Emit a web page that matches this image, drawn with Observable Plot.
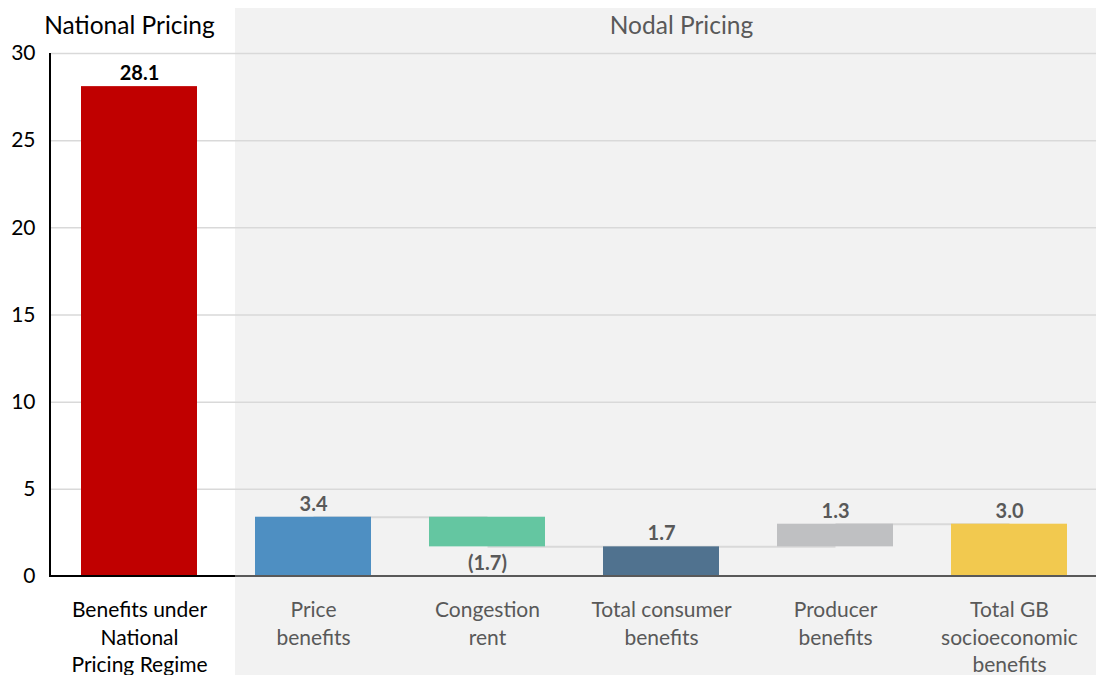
<!DOCTYPE html>
<html>
<head>
<meta charset="utf-8">
<script src="https://cdn.jsdelivr.net/npm/d3@7"></script>
<script src="https://cdn.jsdelivr.net/npm/@observablehq/plot@0.6"></script>
<style>
  html, body { margin: 0; padding: 0; background: #ffffff; }
  #chart { width: 1099px; height: 675px; }
</style>
</head>
<body>
<div id="chart"></div>
<script>
// ---- Data ----
const categories = [
  "Benefits under\nNational\nPricing Regime",
  "Price\nbenefits",
  "Congestion\nrent",
  "Total consumer\nbenefits",
  "Producer\nbenefits",
  "Total GB\nsocioeconomic\nbenefits"
];
const barStart = [0, 0, 1.7, 0, 1.7, 0];
const barEnd = [28.1, 3.4, 3.4, 1.7, 3.0, 3.0];
const valueText = ["28.1", "3.4", "(1.7)", "1.7", "1.3", "3.0"];
const labelBelow = [false, false, true, false, false, false];
const barColors = ["#c00000", "#4e8fc2", "#64c6a1", "#50728f", "#bfc0c2", "#f2c94f"];
const textColors = ["#000000", "#595959", "#595959", "#595959", "#595959", "#595959"];
const connectorFrom = [1, 2, 3, 4];
const connectorLevel = [3.4, 1.7, 1.7, 3.0];
const yTicks = [0, 5, 10, 15, 20, 25, 30];
const groupTitles = ["National Pricing", "Nodal Pricing"];
const groupAnchor = [0, 3];
const groupColors = ["#000000", "#595959"];

const bars = categories.map((c, i) => ({
  cat: c, y1: barStart[i], y2: barEnd[i], text: valueText[i],
  below: labelBelow[i], color: barColors[i], tcolor: textColors[i]
}));
const connectors = connectorFrom.map((i, k) => ({
  x1: categories[i], x2: categories[i + 1], y: connectorLevel[k]
}));
const groups = groupTitles.map((t, i) => ({
  title: t, cat: categories[groupAnchor[i]], color: groupColors[i]
}));

const FONT = "Lato, 'Open Sans', sans-serif";

// Background panel for nodal pricing group
function nodalPanel(index, scales, values, dims) {
  const x = scales.x;
  const step = x(categories[1]) - x(categories[0]);
  const left = x(categories[1]) - step * 0.115;
  const right = dims.width - dims.marginRight;
  const g = d3.create("svg:g");
  g.append("rect")
    .attr("x", left).attr("y", dims.marginTop - 45)
    .attr("width", right - left).attr("height", dims.height - (dims.marginTop - 45))
    .attr("fill", "#f2f2f2");
  return g.node();
}

// Axis lines
function axisLines(index, scales, values, dims) {
  const x = scales.x, y = scales.y;
  const step = x(categories[1]) - x(categories[0]);
  const left = x(categories[1]) - step * 0.115;
  const right = dims.width - dims.marginRight;
  const x0 = dims.marginLeft - 1;
  const g = d3.create("svg:g");
  g.append("line").attr("x1", x0).attr("x2", left).attr("y1", y(0)).attr("y2", y(0))
    .attr("stroke", "#000").attr("stroke-width", 2);
  g.append("line").attr("x1", left).attr("x2", right).attr("y1", y(0)).attr("y2", y(0))
    .attr("stroke", "#595959").attr("stroke-width", 2);
  g.append("line").attr("x1", x0).attr("x2", x0).attr("y1", y(30)).attr("y2", y(0) + 1)
    .attr("stroke", "#000").attr("stroke-width", 2);
  return g.node();
}

const plot = Plot.plot({
  width: 1099,
  height: 675,
  marginLeft: 51,
  marginRight: 3,
  marginTop: 53,
  marginBottom: 99,
  style: { fontFamily: FONT, background: "transparent", overflow: "visible" },
  x: { domain: categories, paddingInner: 1 / 3, paddingOuter: 1 / 6, axis: null },
  y: { domain: [0, 30], axis: null },
  color: { type: "identity" },
  marks: [
    nodalPanel,
    Plot.gridY(yTicks.slice(1), { stroke: "#d9d9d9", strokeOpacity: 1, strokeWidth: 1.5 }),
    Plot.axisY(yTicks, { tickSize: 0, tickPadding: 16, fontSize: 21, fill: "#000", label: null }),
    Plot.link(connectors, { x1: "x1", x2: "x2", y1: "y", y2: "y", stroke: "#d9d9d9", strokeWidth: 2 }),
    Plot.barY(bars, { x: "cat", y1: "y1", y2: "y2", fill: "color" }),
    Plot.text(bars.filter(d => !d.below), {
      x: "cat", y: "y2", text: "text", fill: "tcolor", dy: -13,
      fontSize: 20, fontWeight: "bold"
    }),
    Plot.text(bars.filter(d => d.below), {
      x: "cat", y: "y1", text: "text", fill: "tcolor", dy: 17,
      fontSize: 20, fontWeight: "bold"
    }),
    Plot.text(bars, {
      x: "cat", y: 0, text: "cat", fill: "tcolor", lineAnchor: "top",
      dy: 21, fontSize: 21, lineHeight: 1.31
    }),
    Plot.text(groups.slice(0, 1), {
      x: "cat", frameAnchor: "top", lineAnchor: "middle", dy: -27, dx: -10,
      text: "title", fill: "color", fontSize: 24.5
    }),
    Plot.text(groups.slice(1), {
      x: "cat", frameAnchor: "top", lineAnchor: "middle", dy: -27, dx: 20,
      text: "title", fill: "color", fontSize: 24.5
    }),
    axisLines
  ]
});

document.getElementById("chart").appendChild(plot);
</script>
</body>
</html>
